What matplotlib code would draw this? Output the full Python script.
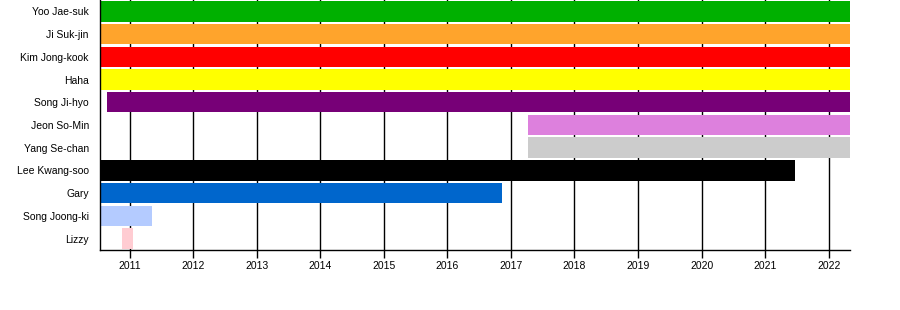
import matplotlib.pyplot as plt

members = ['Yoo Jae-suk', 'Ji Suk-jin', 'Kim Jong-kook', 'Haha', 'Song Ji-hyo',
           'Jeon So-Min', 'Yang Se-chan', 'Lee Kwang-soo', 'Gary', 'Song Joong-ki', 'Lizzy']
start = [2010.53, 2010.53, 2010.53, 2010.53, 2010.64,
         2017.27, 2017.27, 2010.53, 2010.53, 2010.53, 2010.87]
end = [2022.33, 2022.33, 2022.33, 2022.33, 2022.33,
       2022.33, 2022.33, 2021.47, 2016.86, 2011.35, 2011.05]
colors = ['#00b000', '#ffa42c', '#ff0000', '#ffff00', '#770077',
          '#dd80dd', '#cccccc', '#000000', '#0066cc', '#b4cbff', '#ffccd2']
years = list(range(2011, 2023))

plt.rcParams['font.family'] = ['Liberation Sans', 'DejaVu Sans']
fig = plt.figure(figsize=(9, 3.1), dpi=100)
ax = fig.add_axes([0.111, 0.194, 0.833, 0.806])

ypos = list(range(len(members)))
ax.barh(ypos, [e - s for s, e in zip(start, end)], left=start, height=0.9,
        color=colors, zorder=2)
for y in years:
    ax.axvline(y, color='black', lw=1, zorder=1)

ax.set_xlim(2010.53, 2022.33)
ax.set_ylim(len(members) - 0.5, -0.5)
ax.set_yticks(ypos)
ax.set_yticklabels(members, fontsize=7.5)
ax.set_xticks(years)
ax.set_xticklabels([str(y) for y in years], fontsize=7.5)
ax.tick_params(axis='y', length=0, pad=8)
ax.tick_params(axis='x', length=6, width=1, color='black', pad=2)
ax.spines['top'].set_visible(False)
ax.spines['right'].set_visible(False)
ax.spines['left'].set_linewidth(1)
ax.spines['bottom'].set_linewidth(1)

fig.savefig('out.png', dpi=100)
